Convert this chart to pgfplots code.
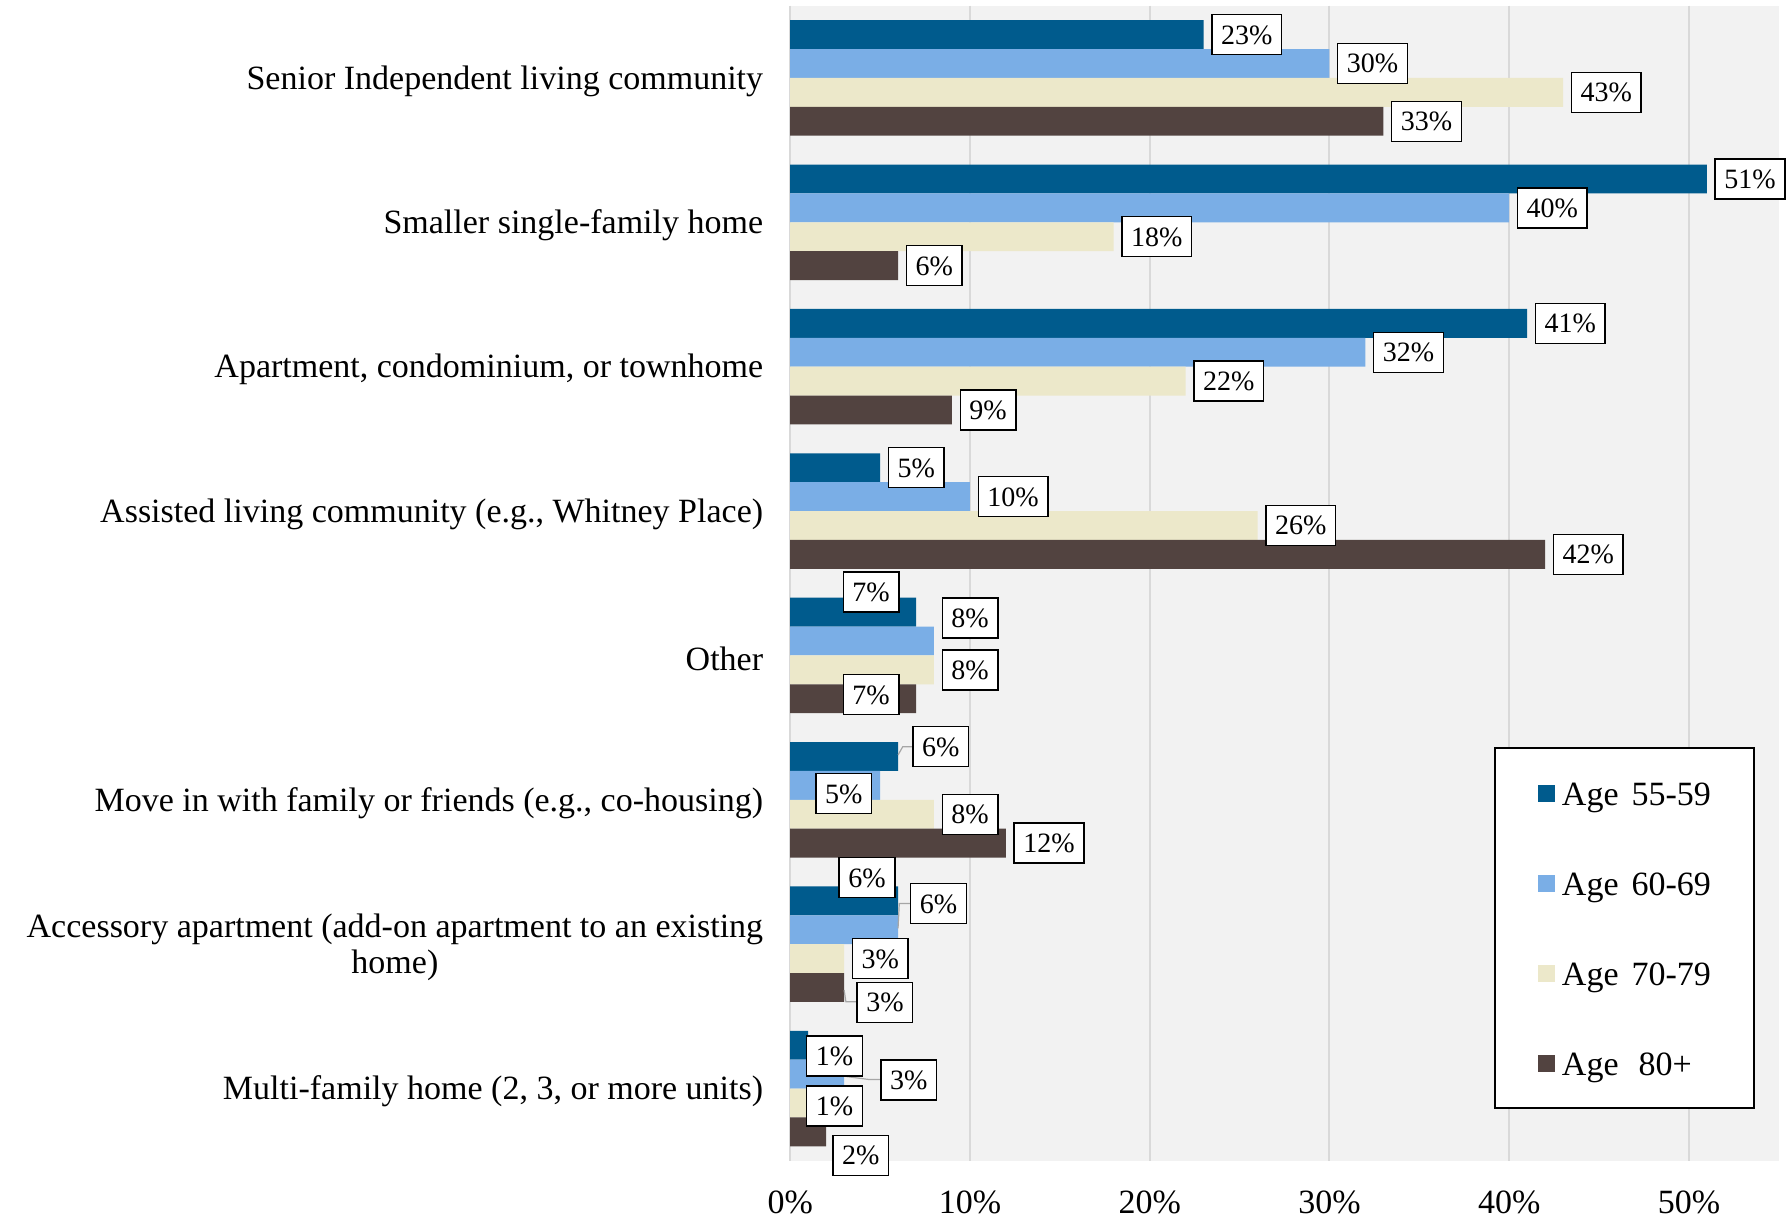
\documentclass[border=0pt]{standalone}
\usepackage{fontspec}
\setmainfont{Liberation Serif}
\usepackage{pgfplots}
\usepackage{pgfplotstable}
\pgfplotsset{compat=1.18}
\definecolor{cA}{RGB}{0,91,141}
\definecolor{cB}{RGB}{122,174,230}
\definecolor{cC}{RGB}{236,232,202}
\definecolor{cD}{RGB}{82,67,64}
\definecolor{bg}{RGB}{242,242,242}
\definecolor{gridc}{RGB}{217,217,217}
\newcommand{\lf}{\fontsize{17}{18.2}\selectfont}
\newcommand{\smf}{\fontsize{14}{16}\selectfont}
\pgfplotsset{myleg/.style={legend image code/.code={\fill[##1,draw=none] (0pt,-4.25pt) rectangle (8.5pt,4.25pt);}}}
\pgfplotstableread{
cat a b c d
0 23 30 43 33
1 51 40 18 6
2 41 32 22 9
3 5 10 26 42
4 7 8 8 7
5 6 5 8 12
6 6 6 3 3
7 1 3 1 2
}\data
\begin{document}
\begin{tikzpicture}[
 lbl/.style={draw=black, line width=0.7pt, fill=white, font=\smf, inner xsep=4.6pt, inner ysep=4.75pt, text height=10pt, text depth=0.5pt},
 lw/.style={lbl, anchor=west, xshift=3.8pt},
 lead/.style={draw=gray!70, line width=0.6pt}]
\path[use as bounding box] (-395.1pt,-28.6pt) rectangle (498.9pt,580.35pt);
\begin{axis}[
 at={(0,0)}, anchor=south west,
 scale only axis, width=494.3pt, height=577.5pt,
 bar width=0.2,
 xmin=0, xmax=55, ymin=-0.5, ymax=7.5, y dir=reverse,
 axis background/.style={fill=bg},
 axis line style={draw=none},
 xtick={0,10,...,50}, xticklabels={0\%,10\%,20\%,30\%,40\%,50\%},
 ytick={0,...,7},
 yticklabels={{Senior Independent living community},{Smaller single-family home},{Apartment, condominium, or townhome},{Assisted living community (e.g., Whitney Place)},{Other},{Move in with family or friends (e.g., co-housing)},{Accessory apartment (add-on apartment to an existing\\home)},{Multi-family home (2, 3, or more units)}},
 major tick length=0pt,
 xmajorgrids, grid style={gridc, line width=1pt},
 tick label style={font=\lf},
 xticklabel style={yshift=-11.5pt},
 yticklabel style={align=center, xshift=-10pt, yshift=-1.5pt},
 clip=false,
 legend style={at={(0.712,0.358)}, anchor=north west, draw=black, line width=0.9pt, fill=white, font=\lf, inner xsep=21.5pt, inner ysep=16.5pt, row sep=33pt, column sep=3.5pt, cells={anchor=west}, nodes={inner sep=0pt, text height=12pt, text depth=0pt}},
 legend cell align=left,
]
\addplot[xbar, bar shift=-0.3, fill=cA, draw=none, myleg] table[x=a, y=cat]{\data};
\addlegendentry{Age\hspace{6.5pt}55-59}
\addplot[xbar, bar shift=-0.1, fill=cB, draw=none, myleg] table[x=b, y=cat]{\data};
\addlegendentry{Age\hspace{6.5pt}60-69}
\addplot[xbar, bar shift=0.1, fill=cC, draw=none, myleg] table[x=c, y=cat]{\data};
\addlegendentry{Age\hspace{6.5pt}70-79}
\addplot[xbar, bar shift=0.3, fill=cD, draw=none, myleg] table[x=d, y=cat]{\data};
\addlegendentry{Age\hspace{10pt}80+}
% leader lines
\draw[lead] (axis cs:6,4.69) -- (axis cs:6.26,4.633) -- (axis cs:6.85,4.633);
\draw[lead] (axis cs:6,5.891) -- (axis cs:6.07,5.718) -- (axis cs:6.7,5.718);
\draw[lead] (axis cs:3,6.318) -- (axis cs:3.1,6.399) -- (axis cs:3.72,6.399);
\draw[lead] (axis cs:3,6.915) -- (axis cs:4.35,6.937) -- (axis cs:5.07,6.937);
% labels
\node[lw] at (axis cs:23,-0.3) {23\%};
\node[lw] at (axis cs:30,-0.1) {30\%};
\node[lw] at (axis cs:43,0.1) {43\%};
\node[lw] at (axis cs:33,0.3) {33\%};
\node[lw] at (axis cs:51,0.7) {51\%};
\node[lw] at (axis cs:40,0.9) {40\%};
\node[lw] at (axis cs:18,1.1) {18\%};
\node[lw] at (axis cs:6,1.3) {6\%};
\node[lw] at (axis cs:41,1.7) {41\%};
\node[lw] at (axis cs:32,1.9) {32\%};
\node[lw] at (axis cs:22,2.1) {22\%};
\node[lw] at (axis cs:9,2.3) {9\%};
\node[lw] at (axis cs:5,2.7) {5\%};
\node[lw] at (axis cs:10,2.9) {10\%};
\node[lw] at (axis cs:26,3.1) {26\%};
\node[lw] at (axis cs:42,3.3) {42\%};
\node[lbl] at (axis cs:4.5,3.56) {7\%};
\node[lw] at (axis cs:8,3.742) {8\%};
\node[lw] at (axis cs:8,4.1) {8\%};
\node[lbl] at (axis cs:4.5,4.271) {7\%};
\node[lbl] at (axis cs:8.38,4.633) {6\%};
\node[lbl] at (axis cs:2.98,4.958) {5\%};
\node[lw] at (axis cs:8,5.1) {8\%};
\node[lw] at (axis cs:12,5.3) {12\%};
\node[lbl] at (axis cs:4.27,5.539) {6\%};
\node[lbl] at (axis cs:8.25,5.72) {6\%};
\node[lw] at (axis cs:3,6.1) {3\%};
\node[lbl] at (axis cs:5.27,6.404) {3\%};
\node[lbl] at (axis cs:2.47,6.775) {1\%};
\node[lbl] at (axis cs:6.6,6.941) {3\%};
\node[lbl] at (axis cs:2.47,7.122) {1\%};
\node[lbl] at (axis cs:3.93,7.462) {2\%};
\end{axis}
\end{tikzpicture}
\end{document}
